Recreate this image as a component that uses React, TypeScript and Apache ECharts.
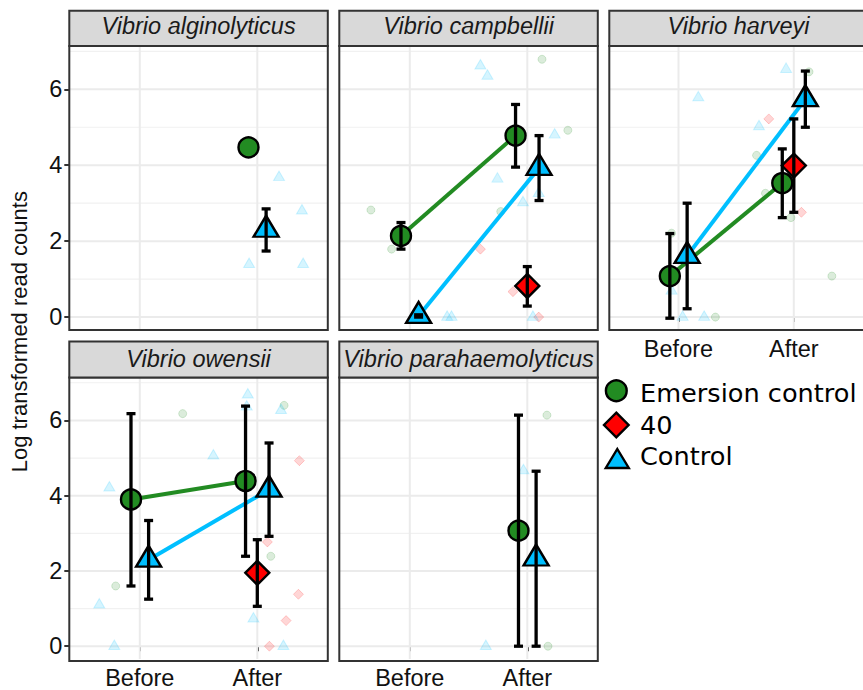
import React, { useEffect, useRef } from 'react';
import * as echarts from 'echarts';

// ---------------- data ----------------
const panelNames = [
  'Vibrio alginolyticus',
  'Vibrio campbellii',
  'Vibrio harveyi',
  'Vibrio owensii',
  'Vibrio parahaemolyticus',
];
const timeLabels = ['Before', 'After']; // axis positions 1 and 2
const groupNames = ['Emersion control', '40', 'Control'];
const yTickValues = [0, 2, 4, 6];
const yMinorValues = [1, 3, 5, 7];
const xTickValues = [1, 2];

// means: [panel, time (1 = Before, 2 = After), mean, lower, upper] (mean ± SE)
const emersionMeans = [
  [0, 2, 4.47, null, null],
  [1, 1, 2.14, 1.79, 2.49],
  [1, 2, 4.78, 3.95, 5.6],
  [2, 1, 1.08, -0.03, 2.2],
  [2, 2, 3.53, 2.62, 4.43],
  [3, 1, 3.9, 1.6, 6.18],
  [3, 2, 4.39, 2.39, 6.38],
  [4, 2, 3.07, 0.0, 6.14],
];
const fortyMeans = [
  [1, 2, 0.82, 0.29, 1.33],
  [2, 2, 3.99, 2.76, 5.22],
  [3, 2, 1.95, 1.06, 2.83],
];
const controlMeans = [
  [0, 2, 2.3, 1.74, 2.85],
  [1, 1, 0.03, 0.0, 0.06],
  [1, 2, 3.93, 3.07, 4.78],
  [2, 1, 1.61, 0.22, 3.0],
  [2, 2, 5.74, 5.0, 6.48],
  [3, 1, 2.3, 1.25, 3.34],
  [3, 2, 4.16, 2.92, 5.4],
  [4, 2, 2.33, 0.0, 4.65],
];

// raw (jittered) observations: [panel, jittered x on the 1..2 time axis, value]
const emersionRaw = [
  [1, 2.125, 6.79], [1, 2.345, 4.92], [1, 0.669, 2.82], [1, 0.845, 1.79], [1, 1.774, 2.78],
  [2, 2.132, 6.46], [2, 1.677, 4.26], [2, 1.754, 3.26], [2, 1.975, 2.62], [2, 2.33, 1.08],
  [2, 1.32, 0.0], [2, 0.94, 2.21],
  [3, 1.365, 6.18], [3, 0.795, 1.6], [3, 2.228, 6.4], [3, 2.115, 2.39],
  [4, 2.167, 6.14], [4, 2.176, 0.0],
];
const fortyRaw = [
  [1, 1.601, 1.79], [1, 1.878, 0.67], [1, 2.097, 0.0],
  [2, 1.783, 5.22], [2, 2.066, 2.76],
  [3, 2.358, 4.93], [3, 2.086, 2.77], [3, 2.35, 1.38], [3, 2.245, 0.68], [3, 2.103, 0.0],
];
const controlRaw = [
  [0, 2.185, 3.68], [0, 2.38, 2.8], [0, 1.93, 1.39], [0, 2.39, 1.39],
  [1, 1.601, 6.62], [1, 1.661, 6.35], [1, 2.233, 4.8], [1, 1.746, 3.64], [1, 1.963, 3.02],
  [1, 2.097, 3.26], [1, 1.318, 0.0], [1, 1.355, 0.0], [1, 2.048, 0.0],
  [2, 1.933, 6.53], [2, 1.172, 5.78], [2, 1.698, 5.02], [2, 0.94, 0.69], [2, 1.036, 0.0], [2, 1.223, 0.0],
  [3, 0.741, 4.21], [3, 1.626, 5.06], [3, 0.655, 1.1], [3, 0.783, 0.0], [3, 1.919, 6.68],
  [3, 1.91, 6.36], [3, 2.202, 6.27], [3, 1.967, 0.73], [3, 2.222, 0.0],
  [4, 1.967, 4.67], [4, 1.647, 0.0],
];

// ---------------- styling / layout ----------------
const FILL = ['#228B22', '#FF0000', '#00BFFF'];
const RGB = ['34,139,34', '255,0,0', '0,191,255'];
const SYMBOL = ['circle', 'diamond', 'triangle'];
const MEAN_SIZE: any[] = [20, 24, [25, 21]];
const MEAN_OFFSET: any[] = [[0, 0], [0, 0], [0, -3.5]];
const RAW_SIZE: any[] = [8, 10, [11, 9.5]];
const RAW_OFFSET: any[] = [[0, 0], [0, 0], [0, -1.5]];
const DODGE = 0.3;

const COL_LEFT = [69.3, 339.3, 609.3];
const PANEL_W = 258.5;
const ROW_TOP = [46, 377.5];
const ROW_H = [284, 283.5];
const STRIP_TOP = [10.7, 341.5];
const STRIP_TEXT_Y = [25.5, 359.2];
const Y_MIN = -0.34;
const Y_MAX = 7.14;

const SANS = "'Liberation Sans', Arial, sans-serif";
const DEJAVU = "'DejaVu Sans', Verdana, sans-serif";

export default function App() {
  const ref = useRef<HTMLDivElement>(null);

  useEffect(() => {
    const chart = echarts.init(ref.current!, null, { renderer: 'svg' });
    const meansByGroup = [emersionMeans, fortyMeans, controlMeans];
    const rawByGroup = [emersionRaw, fortyRaw, controlRaw];

    const dodgeX = (panel: number, time: number, g: number) => {
      const present = [0, 1, 2].filter((k) =>
        meansByGroup[k].some((r) => r[0] === panel && r[1] === time)
      );
      const n = present.length;
      const k = present.indexOf(g);
      return time + (k - (n - 1) / 2) * (DODGE / n);
    };

    const grids: any[] = [];
    const xAxes: any[] = [];
    const yAxes: any[] = [];
    const series: any[] = [];
    const graphics: any[] = [];

    const gridData = [
      ...yTickValues.map((v) => ({ value: [1.5, 3, 0, v] })),
      ...yMinorValues.map((v) => ({ value: [1.5, 3, 1, v] })),
      ...xTickValues.map((v) => ({ value: [1.5, 3, 2, v] })),
    ];

    panelNames.forEach((name, p) => {
      const col = p % 3;
      const row = Math.floor(p / 3);
      const left = COL_LEFT[col];
      const top = ROW_TOP[row];
      const h = ROW_H[row];
      const showX = p >= 2;
      const showY = col === 0;

      grids.push({ left, top, width: PANEL_W, height: h, show: false });
      xAxes.push({
        type: 'value',
        gridIndex: p,
        min: 0.4,
        max: 2.6,
        axisLine: { show: false },
        splitLine: { show: false },
        axisTick: {
          show: showX,
          customValues: xTickValues,
          length: 5,
          lineStyle: { color: '#333333', width: 2 },
        },
        axisLabel: {
          show: showX,
          customValues: xTickValues,
          formatter: (v: number) => timeLabels[Math.round(v) - 1] || '',
          fontSize: 23.5,
          fontFamily: SANS,
          color: '#111111',
          margin: 7,
        },
      });
      yAxes.push({
        type: 'value',
        gridIndex: p,
        min: Y_MIN,
        max: Y_MAX,
        axisLine: { show: false },
        splitLine: { show: false },
        axisTick: {
          show: showY,
          customValues: yTickValues,
          length: 5,
          lineStyle: { color: '#333333', width: 2 },
        },
        axisLabel: {
          show: showY,
          customValues: yTickValues,
          fontSize: 23.5,
          fontFamily: SANS,
          color: '#111111',
          margin: 7,
        },
      });

      // grid lines
      series.push({
        type: 'custom',
        xAxisIndex: p,
        yAxisIndex: p,
        z: 1,
        silent: true,
        data: gridData,
        renderItem: (params: any, api: any) => {
          const kind = api.value(2);
          const v = api.value(3);
          const cs = params.coordSys;
          if (kind === 2) {
            const pt = api.coord([v, 1]);
            return {
              type: 'line',
              shape: { x1: pt[0], y1: cs.y, x2: pt[0], y2: cs.y + cs.height },
              style: { stroke: '#EBEBEB', lineWidth: 2 },
            };
          }
          const pt = api.coord([1, v]);
          return {
            type: 'line',
            shape: { x1: cs.x, y1: pt[1], x2: cs.x + cs.width, y2: pt[1] },
            style: { stroke: kind === 0 ? '#EBEBEB' : '#F1F1F1', lineWidth: kind === 0 ? 2 : 1.2 },
          };
        },
      });

      // raw points
      [0, 1, 2].forEach((g) => {
        const pts = rawByGroup[g].filter((r) => r[0] === p).map((r) => [r[1], r[2]]);
        if (!pts.length) return;
        series.push({
          type: 'scatter',
          name: groupNames[g] + ' raw',
          xAxisIndex: p,
          yAxisIndex: p,
          z: 2,
          symbol: SYMBOL[g],
          symbolSize: RAW_SIZE[g],
          symbolOffset: RAW_OFFSET[g],
          itemStyle: {
            color: `rgba(${RGB[g]},0.2)`,
            borderColor: `rgba(${RGB[g]},0.22)`,
            borderWidth: 1,
          },
          data: pts,
        });
      });

      // connecting lines
      [0, 1, 2].forEach((g) => {
        const b = meansByGroup[g].find((r) => r[0] === p && r[1] === 1);
        const a = meansByGroup[g].find((r) => r[0] === p && r[1] === 2);
        if (!b || !a) return;
        series.push({
          type: 'line',
          name: groupNames[g] + ' line',
          xAxisIndex: p,
          yAxisIndex: p,
          z: 3,
          showSymbol: false,
          symbol: 'none',
          lineStyle: { color: FILL[g], width: 4 },
          data: [
            [dodgeX(p, 1, g), b[2]],
            [dodgeX(p, 2, g), a[2]],
          ],
        });
      });

      // means
      [0, 1, 2].forEach((g) => {
        const rows = meansByGroup[g].filter((r) => r[0] === p);
        if (!rows.length) return;
        series.push({
          type: 'scatter',
          name: groupNames[g],
          xAxisIndex: p,
          yAxisIndex: p,
          z: 4,
          symbol: SYMBOL[g],
          symbolSize: MEAN_SIZE[g],
          symbolOffset: MEAN_OFFSET[g],
          itemStyle: { color: FILL[g], borderColor: '#000000', borderWidth: 2.4, opacity: 1 },
          data: rows.map((r) => [dodgeX(p, r[1] as number, g), r[2]]),
        });
      });

      // error bars
      const ebData: any[] = [];
      [0, 1, 2].forEach((g) => {
        meansByGroup[g]
          .filter((r) => r[0] === p && r[3] !== null)
          .forEach((r) => ebData.push([dodgeX(p, r[1] as number, g), r[3], r[4]]));
      });
      if (ebData.length) {
        series.push({
          type: 'custom',
          name: 'error bars',
          xAxisIndex: p,
          yAxisIndex: p,
          z: 5,
          silent: true,
          encode: { x: 0, y: [1, 2] },
          data: ebData,
          renderItem: (params: any, api: any) => {
            const x = api.value(0);
            const lo = api.coord([x, api.value(1)]);
            const hi = api.coord([x, api.value(2)]);
            const hw = 4.5;
            const st = { stroke: '#000000', lineWidth: 3.3 };
            return {
              type: 'group',
              children: [
                { type: 'line', shape: { x1: lo[0], y1: lo[1], x2: hi[0], y2: hi[1] }, style: st },
                { type: 'line', shape: { x1: lo[0] - hw, y1: lo[1], x2: lo[0] + hw, y2: lo[1] }, style: st },
                { type: 'line', shape: { x1: hi[0] - hw, y1: hi[1], x2: hi[0] + hw, y2: hi[1] }, style: st },
              ],
            };
          },
        });
      }

      // panel border
      graphics.push({
        type: 'rect',
        z: 20,
        silent: true,
        shape: { x: left, y: top, width: PANEL_W, height: h },
        style: { fill: 'none', stroke: '#333333', lineWidth: 2 },
      });
      // strip
      graphics.push({
        type: 'rect',
        z: 20,
        silent: true,
        shape: { x: left, y: STRIP_TOP[row], width: PANEL_W, height: top - STRIP_TOP[row] },
        style: { fill: '#D9D9D9', stroke: '#333333', lineWidth: 2 },
      });
      graphics.push({
        type: 'text',
        z: 21,
        silent: true,
        x: left + PANEL_W / 2,
        y: STRIP_TEXT_Y[row],
        style: {
          text: name,
          fontSize: 23.5,
          fontStyle: 'italic',
          fontFamily: SANS,
          fill: '#1A1A1A',
          textAlign: 'center',
          textVerticalAlign: 'middle',
        },
      });
    });

    // y axis title
    graphics.push({
      type: 'text',
      z: 21,
      x: 19,
      y: 331.7,
      rotation: Math.PI / 2,
      style: {
        text: 'Log transformed read counts',
        fontSize: 22,
        fontFamily: SANS,
        fill: '#111111',
        textAlign: 'center',
        textVerticalAlign: 'middle',
      },
    });

    // legend
    const lx = 616.3;
    const ly = [390.8, 425, 458];
    graphics.push({
      type: 'circle',
      z: 21,
      shape: { cx: lx, cy: ly[0], r: 10.4 },
      style: { fill: FILL[0], stroke: '#000000', lineWidth: 2.4 },
    });
    graphics.push({
      type: 'polygon',
      z: 21,
      shape: {
        points: [
          [lx, ly[1] - 12.3],
          [lx + 12.3, ly[1]],
          [lx, ly[1] + 12.3],
          [lx - 12.3, ly[1]],
        ],
      },
      style: { fill: FILL[1], stroke: '#000000', lineWidth: 2.4 },
    });
    graphics.push({
      type: 'polygon',
      z: 21,
      shape: {
        points: [
          [lx + 1, ly[2] - 9],
          [lx + 12.5, ly[2] + 10],
          [lx - 10.5, ly[2] + 10],
        ],
      },
      style: { fill: FILL[2], stroke: '#000000', lineWidth: 2.4, lineJoin: 'miter' },
    });
    const legendTextY = [392.8, 424.5, 456.3];
    groupNames.forEach((g, i) => {
      graphics.push({
        type: 'text',
        z: 21,
        x: 640,
        y: legendTextY[i],
        style: {
          text: g,
          fontSize: 25.6,
          fontFamily: DEJAVU,
          fill: '#000000',
          textAlign: 'left',
          textVerticalAlign: 'middle',
        },
      });
    });

    chart.setOption({
      animation: false,
      backgroundColor: '#FFFFFF',
      grid: grids,
      xAxis: xAxes,
      yAxis: yAxes,
      series,
      graphic: { elements: graphics },
    });

    return () => chart.dispose();
  }, []);

  return (
    <div
      ref={ref}
      style={{ position: 'fixed', left: 0, top: 0, width: 863, height: 690 }}
    />
  );
}
